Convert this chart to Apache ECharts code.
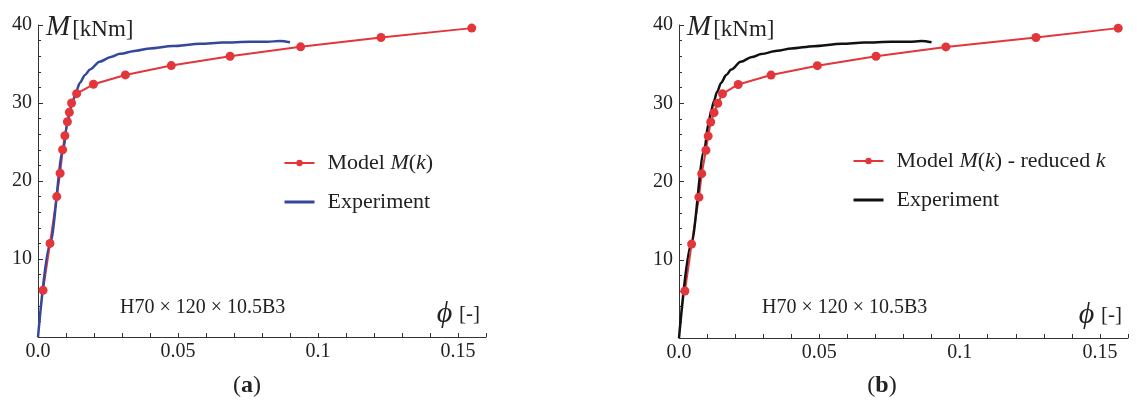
<!DOCTYPE html>
<html>
<head>
<meta charset="utf-8">
<script src="https://cdn.jsdelivr.net/npm/echarts@6/dist/echarts.min.js"></script>
<style>
html,body{margin:0;padding:0;background:#fff;}
#c{width:1137px;height:406px;}
</style>
</head>
<body>
<div id="c"></div>
<script>
// ---- data ----
const modelA_phi = [0.0018, 0.0043, 0.0067, 0.0079, 0.0088, 0.0096, 0.0105, 0.0112, 0.0120, 0.0138, 0.0198, 0.0312, 0.0476, 0.0686, 0.0938, 0.1225, 0.1549];
const modelA_M   = [6, 12, 18, 21, 24, 25.8, 27.6, 28.8, 30, 31.2, 32.4, 33.6, 34.8, 36, 37.2, 38.4, 39.6];
const modelB_phi = [0.0021, 0.0045, 0.0071, 0.0081, 0.0096, 0.0104, 0.0113, 0.0125, 0.0138, 0.0155, 0.0211, 0.0328, 0.0493, 0.0702, 0.0951, 0.1272, 0.1565];
const modelB_M   = [6, 12, 18, 21, 24, 25.8, 27.6, 28.8, 30, 31.2, 32.4, 33.6, 34.8, 36, 37.2, 38.4, 39.6];
const exp_phi = [0, 0.0043, 0.0090, 0.0105, 0.0115, 0.0124, 0.0135, 0.0150, 0.0168, 0.0186, 0.0220, 0.0260, 0.0293, 0.0350, 0.0400, 0.0480, 0.0580, 0.0660, 0.0757, 0.0820, 0.0864, 0.0900];
const exp_M   = [0, 12, 24, 27.4, 29.1, 30.2, 31.4, 32.6, 33.6, 34.3, 35.3, 35.9, 36.3, 36.7, 37.0, 37.3, 37.6, 37.75, 37.85, 37.85, 37.95, 37.8];
const xTickLabels = {0: '0.0', 0.05: '0.05', 0.1: '0.1', 0.15: '0.15'};
const yTickLabels = [10, 20, 30, 40];

const zip = (a, b) => a.map((v, i) => [v, b[i]]);
const FONT = '"Liberation Serif", "Times New Roman", serif';
const RED = '#e3363a', BLUE = '#33479c', BLACK = '#111111', AX = '#333333', TXT = '#222222';

function xAxis(gi) {
  return {
    type: 'value', gridIndex: gi, min: 0, max: 0.16, interval: 0.01,
    splitLine: {show: false},
    axisLine: {show: true, lineStyle: {color: AX, width: 1}},
    axisTick: {show: true, inside: true, length: 4, lineStyle: {color: AX}},
    axisLabel: {
      interval: 0, margin: 5, color: TXT, fontFamily: FONT, fontSize: 20,
      formatter: v => {
        for (const k in xTickLabels) { if (Math.abs(v - parseFloat(k)) < 1e-7) return xTickLabels[k]; }
        return '';
      }
    },
    name: '{p|ϕ}  {u|[-]}', nameLocation: 'end', nameGap: -6,
    nameTextStyle: {
      align: 'right', verticalAlign: 'bottom', padding: [0, 0, 8, 0],
      rich: {
        p: {fontFamily: FONT, fontSize: 30, fontStyle: 'italic', color: TXT},
        u: {fontFamily: FONT, fontSize: 21, color: TXT}
      }
    }
  };
}
function yAxis(gi) {
  return {
    type: 'value', gridIndex: gi, min: 0, max: 40, interval: 10,
    splitLine: {show: false},
    axisLine: {show: true, lineStyle: {color: AX, width: 1}},
    axisTick: {show: true, inside: true, length: 5, lineStyle: {color: AX}},
    minorTick: {show: true, splitNumber: 5, length: 3, lineStyle: {color: AX}},
    axisLabel: {
      margin: 6, color: TXT, fontFamily: FONT, fontSize: 20,
      formatter: v => yTickLabels.indexOf(v) >= 0 ? String(v) : ''
    },
    name: '{m|M}{u|[kNm]}', nameLocation: 'end', nameGap: -17,
    nameTextStyle: {
      align: 'left', verticalAlign: 'bottom', padding: [0, 0, 0, 8],
      rich: {
        m: {fontFamily: FONT, fontSize: 29, fontStyle: 'italic', color: TXT, verticalAlign: 'bottom'},
        u: {fontFamily: FONT, fontSize: 23, color: TXT, verticalAlign: 'bottom', padding: [0, 0, 1, 2]}
      }
    }
  };
}
const legendRich = {
  n: {fontFamily: FONT, fontSize: 22, color: TXT},
  i: {fontFamily: FONT, fontSize: 22, fontStyle: 'italic', color: TXT}
};
function legendFmt(name) {
  if (name === 'Model A') return '{n|Model }{i|M}{n|(}{i|k}{n|)}';
  if (name === 'Model B') return '{n|Model }{i|M}{n|(}{i|k}{n|) - reduced }{i|k}';
  return '{n|Experiment}';
}
const noDot = {color: 'rgba(0,0,0,0)', opacity: 0, borderWidth: 0};

const chart = echarts.init(document.getElementById('c'), null, {renderer: 'canvas'});
chart.setOption({
  animation: false,
  backgroundColor: '#ffffff',
  grid: [
    {left: 38, top: 25, width: 448, height: 312, outerBoundsMode: 'none'},
    {left: 679, top: 25, width: 449, height: 313, outerBoundsMode: 'none'}
  ],
  xAxis: [xAxis(0), xAxis(1)],
  yAxis: [yAxis(0), yAxis(1)],
  legend: [
    {data: ['Model A', {name: 'Experiment A', itemStyle: noDot, lineStyle: {width: 3}}],
     orient: 'vertical', left: 283, top: 152, padding: 0,
     itemWidth: 30, itemHeight: 8, itemGap: 17, selectedMode: false,
     formatter: legendFmt, textStyle: {rich: legendRich, padding: [0, 0, 0, 8]}},
    {data: ['Model B', {name: 'Experiment B', itemStyle: noDot, lineStyle: {width: 3}}],
     orient: 'vertical', left: 852, top: 150, padding: 0,
     itemWidth: 30, itemHeight: 8, itemGap: 17, selectedMode: false,
     formatter: legendFmt, textStyle: {rich: legendRich, padding: [0, 0, 0, 8]}}
  ],
  series: [
    {name: 'Model A', type: 'line', xAxisIndex: 0, yAxisIndex: 0, data: zip(modelA_phi, modelA_M),
     symbol: 'circle', symbolSize: 9, showSymbol: true, color: RED,
     lineStyle: {color: RED, width: 2}, itemStyle: {color: RED}},
    {name: 'Experiment A', type: 'line', xAxisIndex: 0, yAxisIndex: 0, data: zip(exp_phi, exp_M),
     symbol: 'none', smooth: 0.3, smoothMonotone: 'x', color: BLUE,
     lineStyle: {color: BLUE, width: 2.5}},
    {name: 'Model B', type: 'line', xAxisIndex: 1, yAxisIndex: 1, data: zip(modelB_phi, modelB_M),
     symbol: 'circle', symbolSize: 9, showSymbol: true, color: RED,
     lineStyle: {color: RED, width: 2}, itemStyle: {color: RED}},
    {name: 'Experiment B', type: 'line', xAxisIndex: 1, yAxisIndex: 1, data: zip(exp_phi, exp_M),
     symbol: 'none', smooth: 0.3, smoothMonotone: 'x', color: BLACK,
     lineStyle: {color: BLACK, width: 2.5}}
  ],
  graphic: [
    {type: 'text', x: 120, y: 318, style: {text: 'H70 × 120 × 10.5B3', font: '20px ' + FONT, fill: TXT, verticalAlign: 'bottom'}},
    {type: 'text', x: 762, y: 318, style: {text: 'H70 × 120 × 10.5B3', font: '20px ' + FONT, fill: TXT, verticalAlign: 'bottom'}},
    {type: 'text', x: 247, y: 386, style: {text: '{n|(}{b|a}{n|)}', align: 'center', verticalAlign: 'middle',
      rich: {n: {fontFamily: FONT, fontSize: 24, fill: TXT}, b: {fontFamily: FONT, fontSize: 24, fontWeight: 'bold', fill: TXT}}}},
    {type: 'text', x: 882, y: 386, style: {text: '{n|(}{b|b}{n|)}', align: 'center', verticalAlign: 'middle',
      rich: {n: {fontFamily: FONT, fontSize: 24, fill: TXT}, b: {fontFamily: FONT, fontSize: 24, fontWeight: 'bold', fill: TXT}}}}
  ]
});
</script>
</body>
</html>
